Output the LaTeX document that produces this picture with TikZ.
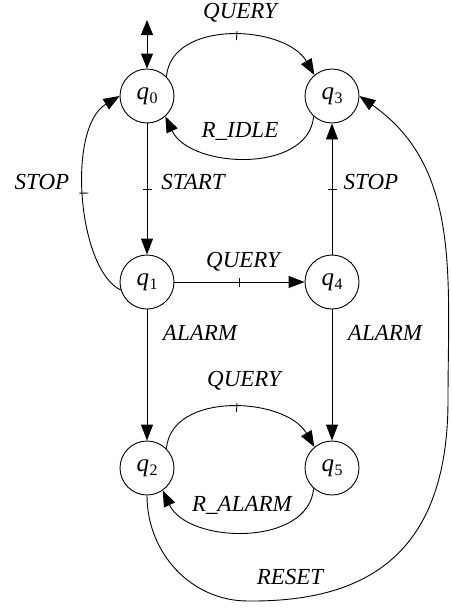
\documentclass[tikz,border=0pt]{standalone}
\usepackage{fontspec}
\setmainfont{Liberation Serif}
\usetikzlibrary{arrows.meta,decorations.markings}
\newcommand\qsub[1]{\textit{q}\kern0.5pt\raisebox{-4pt}{\fontsize{16}{18}\selectfont #1}}
\begin{document}
\begin{tikzpicture}[x=1pt,y=1pt,
  state/.style={circle,draw,line width=0.9pt,minimum size=54pt,inner sep=0pt,font=\fontsize{25}{28}\selectfont},
  edge/.style={line width=0.9pt,-{Triangle[length=16pt,width=12pt]}},
  midtick/.style={postaction={decorate,decoration={markings,mark=at position 0.5 with {\draw[-,line width=0.9pt] (0,-4.5pt) -- (0,4.5pt);}}}},
  lbl/.style={font=\fontsize{23}{27}\selectfont\itshape,inner sep=0pt}]
\useasboundingbox (0,0) rectangle (452,-608);
% states
\node[state] (q0) at (147,-96) {\qsub{0}};
\node[state] (q3) at (332,-96) {\qsub{3}};
\node[state] (q1) at (147,-282) {\qsub{1}};
\node[state] (q4) at (332,-282) {\qsub{4}};
\node[state] (q2) at (147,-468) {\qsub{2}};
\node[state] (q5) at (332,-468) {\qsub{5}};
% initial double arrow
\coordinate (init) at (147,-20);
\draw[line width=0.9pt,{Triangle[length=15pt,width=12pt]}-{Triangle[length=15pt,width=12pt]}] (init) -- (q0);
% edges
\draw[edge,midtick] (q0.45) to[out=85,in=120] (q3.130);
\draw[edge] (q3.-132) to[out=-95,in=-65] (q0.-48);
\draw[edge,midtick] (q1.197) .. controls (78,-270) and (66,-128) .. (q0.west);
\draw[edge,midtick] (q0) -- (q1);
\draw[edge,midtick] (q4) -- (q3);
\draw[edge,midtick] (q1) -- (q4);
\draw[edge] (q1) -- (q2);
\draw[edge] (q4) -- (q5);
\draw[edge,midtick] (q2.45) to[out=85,in=120] (q5.130);
\draw[edge] (q5.-132) to[out=-95,in=-65] (q2.-55);
\coordinate (r1) at (248,-601);
\coordinate (r2) at (448,-400);
\draw[edge] (q2.south) to[out=-90,in=180] (r1) .. controls (360,-602) and (448,-560) .. (r2) to[out=90,in=-35] (q3.east);
% labels
\node[lbl] (lq1) at (240,-13) {QUERY};
\node[lbl] (lri) at (240,-131) {R\_IDLE};
\node[lbl] (ls1) at (42,-182) {STOP};
\node[lbl] (lst) at (193,-182) {START};
\node[lbl] (ls2) at (371,-182) {STOP};
\node[lbl] (lq2) at (243,-262) {QUERY};
\node[lbl] (la1) at (200,-333) {ALARM};
\node[lbl] (la2) at (385,-333) {ALARM};
\node[lbl] (lq3) at (244,-381) {QUERY};
\node[lbl] (lra) at (242,-505) {R\_ALARM};
\node[lbl] (lre) at (290,-577) {RESET};
\end{tikzpicture}
\end{document}
